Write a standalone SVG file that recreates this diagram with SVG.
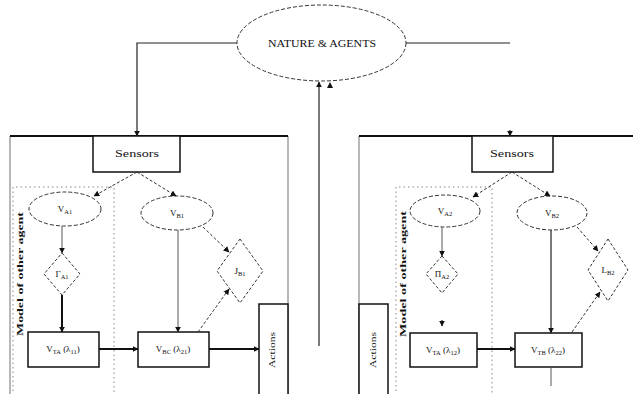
<svg xmlns="http://www.w3.org/2000/svg" width="633" height="394" viewBox="0 0 633 394">
<style>
text{font-family:"Liberation Serif","DejaVu Serif",serif;fill:#111;}
.lbl{font-size:9px;text-anchor:middle;}
.sub{font-size:6.5px;}
.solid{fill:none;stroke:#222;stroke-width:1.2;}
.thick{fill:none;stroke:#111;stroke-width:2;}
.thin{fill:none;stroke:#555;stroke-width:1;}
.dash{fill:none;stroke:#333;stroke-width:1;stroke-dasharray:3,2;}
.dot{fill:none;stroke:#888;stroke-width:1;stroke-dasharray:1.5,3;}
.ell{fill:#fff;stroke:#333;stroke-width:1;stroke-dasharray:4,2;}
.dia{fill:#fff;stroke:#333;stroke-width:1;stroke-dasharray:3,2;}
.box{fill:#fff;stroke:#111;stroke-width:1.5;}
.panel{fill:none;stroke:#888;stroke-width:1.2;}
</style>
<defs>
<marker id="arr" viewBox="0 0 10 10" refX="9" refY="5" markerWidth="6" markerHeight="6" orient="auto" markerUnits="userSpaceOnUse">
<path d="M0,0 L10,5 L0,10 z" fill="#111"/>
</marker>
</defs>

<g id="panel-left">
<path class="panel" d="M10,394 L10,136 M288,136 L288,394"/>
<path d="M10,136 L288,136" stroke="#111" stroke-width="2" fill="none"/>
</g>
<g id="panel-right">
<path class="panel" d="M359,394 L359,136"/>
<path d="M359,136 L633,136" stroke="#111" stroke-width="2" fill="none"/>
</g>

<g id="nature">
<ellipse class="ell" cx="321.5" cy="43" rx="84.5" ry="38"/>
<text x="322" y="47" font-size="10" text-anchor="middle" textLength="108" lengthAdjust="spacingAndGlyphs">NATURE &amp; AGENTS</text>
</g>

<g id="model-left">
<path class="dot" d="M13,400 L13,187 L114,187 L114,400"/>
<text x="23" y="274" font-size="9" text-anchor="middle" transform="rotate(-90 23 274)" textLength="124" lengthAdjust="spacingAndGlyphs" font-weight="bold">Model of other agent</text>
</g>
<g id="model-right">
<path class="dot" d="M396,400 L396,187 L492,187 L492,400"/>
<text x="406" y="274" font-size="9" text-anchor="middle" transform="rotate(-90 406 274)" textLength="126" lengthAdjust="spacingAndGlyphs" font-weight="bold">Model of other agent</text>
</g>

<g id="sensors-left">
<rect class="box" x="93" y="136" width="87" height="36"/>
<text x="137" y="157" font-size="10" text-anchor="middle" textLength="44" lengthAdjust="spacingAndGlyphs">Sensors</text>
</g>
<g id="sensors-right">
<rect class="box" x="472" y="136" width="81" height="36"/>
<text x="512" y="157" font-size="10" text-anchor="middle" textLength="44" lengthAdjust="spacingAndGlyphs">Sensors</text>
</g>

<g id="va1">
<ellipse class="ell" cx="65" cy="209" rx="36" ry="17"/>
<text class="lbl" x="65" y="212">V<tspan class="sub" dy="1.5">A1</tspan></text>
</g>
<g id="vb1">
<ellipse class="ell" cx="177" cy="213" rx="36" ry="17"/>
<text class="lbl" x="177" y="216">V<tspan class="sub" dy="1.5">B1</tspan></text>
</g>
<g id="ga1">
<polygon class="dia" points="62,253 80,274 62,295 44,274"/>
<text class="lbl" x="62" y="277">Γ<tspan class="sub" dy="1.5">A1</tspan></text>
</g>
<g id="jb1">
<polygon class="dia" points="240,239 263,271 240,303 217,271"/>
<text class="lbl" x="240" y="274">J<tspan class="sub" dy="1.5">B1</tspan></text>
</g>
<g id="vta1">
<rect class="box" x="28" y="332" width="71" height="35"/>
<text class="lbl" x="63" y="352">V<tspan class="sub" dy="1.5">TA</tspan><tspan dy="-1.5"> (λ</tspan><tspan class="sub" dy="1.5">11</tspan><tspan dy="-1.5">)</tspan></text>
</g>
<g id="vbc1">
<rect class="box" x="138" y="332" width="71" height="35"/>
<text class="lbl" x="173" y="352">V<tspan class="sub" dy="1.5">BC</tspan><tspan dy="-1.5"> (λ</tspan><tspan class="sub" dy="1.5">21</tspan><tspan dy="-1.5">)</tspan></text>
</g>
<g id="actions-left">
<path class="box" d="M259,394 L259,304 L288,304 L288,394"/>
<text x="275" y="350" font-size="9" text-anchor="middle" transform="rotate(-90 275 350)" textLength="36" lengthAdjust="spacingAndGlyphs">Actions</text>
</g>

<g id="va2">
<ellipse class="ell" cx="445" cy="211" rx="35" ry="16"/>
<text class="lbl" x="445" y="214">V<tspan class="sub" dy="1.5">A2</tspan></text>
</g>
<g id="vb2">
<ellipse class="ell" cx="552" cy="213" rx="35" ry="17"/>
<text class="lbl" x="552" y="216">V<tspan class="sub" dy="1.5">B2</tspan></text>
</g>
<g id="pa2">
<polygon class="dia" points="442,256 458,274 442,293 426,274"/>
<text class="lbl" x="442" y="277">Π<tspan class="sub" dy="1.5">A2</tspan></text>
</g>
<g id="lb2">
<polygon class="dia" points="608,239 628,270 608,301 588,270"/>
<text class="lbl" x="608" y="273">L<tspan class="sub" dy="1.5">B2</tspan></text>
</g>
<g id="vta2">
<rect class="box" x="410" y="333" width="67" height="34"/>
<text class="lbl" x="443" y="353">V<tspan class="sub" dy="1.5">TA</tspan><tspan dy="-1.5"> (λ</tspan><tspan class="sub" dy="1.5">12</tspan><tspan dy="-1.5">)</tspan></text>
</g>
<g id="vtb2">
<rect class="box" x="515" y="333" width="67" height="34"/>
<text class="lbl" x="548" y="353">V<tspan class="sub" dy="1.5">TB</tspan><tspan dy="-1.5"> (λ</tspan><tspan class="sub" dy="1.5">22</tspan><tspan dy="-1.5">)</tspan></text>
</g>
<g id="actions-right">
<path class="box" d="M359,394 L359,304 L388,304 L388,394"/>
<text x="376" y="350" font-size="9" text-anchor="middle" transform="rotate(-90 376 350)" textLength="36" lengthAdjust="spacingAndGlyphs">Actions</text>
</g>

<g id="connectors">
<path class="solid" d="M237,43 L137,43 L137,136" marker-end="url(#arr)"/>
<path class="solid" d="M406,43 L510,43"/>
<path class="solid" d="M510,130 L510,136" marker-end="url(#arr)"/>
<path class="solid" d="M319,346 L319,82" marker-end="url(#arr)"/>
<polygon points="327,88 330,82 333,88" fill="#111"/>

<path class="dash" d="M137,172 L94,196" marker-end="url(#arr)"/>
<path class="dash" d="M137,172 L176,196" marker-end="url(#arr)"/>
<path class="thin" d="M62,226 L62,253" marker-end="url(#arr)"/>
<path class="thick" d="M62,295 L62,332" marker-end="url(#arr)"/>
<path class="thick" d="M99,349 L138,349" marker-end="url(#arr)"/>
<path class="thin" d="M178,230 L178,332" marker-end="url(#arr)"/>
<path class="dash" d="M203,227 L229,252" marker-end="url(#arr)"/>
<path class="dash" d="M198,332 L229,289" marker-end="url(#arr)"/>
<path class="thick" d="M209,349 L259,349" marker-end="url(#arr)"/>

<path class="dash" d="M512,172 L473,197" marker-end="url(#arr)"/>
<path class="dash" d="M512,172 L550,196" marker-end="url(#arr)"/>
<path class="thin" d="M442,227 L442,256" marker-end="url(#arr)"/>
<path class="solid" d="M442,320 L442,326" marker-end="url(#arr)"/>
<path class="thick" d="M477,349 L515,349" marker-end="url(#arr)"/>
<path class="solid" d="M551,230 L551,333" marker-end="url(#arr)"/>
<path class="thin" d="M551,367 L551,386"/>
<path class="dash" d="M577,227 L598,251" marker-end="url(#arr)"/>
<path class="dash" d="M572,332 L600,292" marker-end="url(#arr)"/>
</g>
</svg>
